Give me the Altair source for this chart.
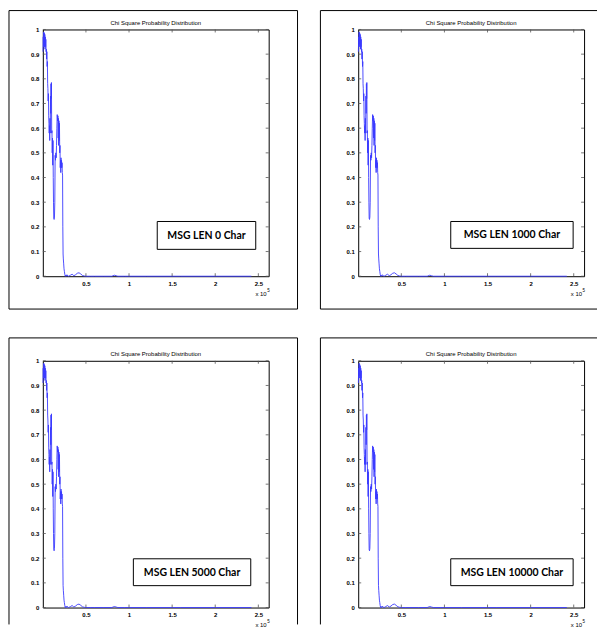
import altair as alt
import pandas as pd

# ---- data (x in units of 1e5) ----
curve_x = [0.002, 0.005, 0.008, 0.011, 0.014, 0.017, 0.020, 0.023, 0.026, 0.029,
           0.032, 0.035, 0.038, 0.041, 0.044, 0.047, 0.050, 0.053, 0.056, 0.059,
           0.062, 0.065, 0.068, 0.071, 0.074, 0.077, 0.080, 0.083, 0.086, 0.089,
           0.092, 0.095, 0.098, 0.100, 0.103, 0.106, 0.109, 0.112, 0.115, 0.118,
           0.121, 0.124, 0.127, 0.131, 0.135, 0.139, 0.143, 0.147, 0.151, 0.155,
           0.159, 0.163, 0.167, 0.171, 0.175, 0.178, 0.181, 0.184, 0.187, 0.190,
           0.193, 0.196, 0.199, 0.202, 0.205, 0.208, 0.211, 0.214, 0.217, 0.220,
           0.223, 0.226, 0.229, 0.232, 0.235, 0.238, 0.242, 0.246, 0.250, 0.255,
           0.260, 0.265, 0.270, 0.28, 0.29, 0.30, 0.32, 0.34, 0.36, 0.38,
           0.40, 0.42, 0.44, 0.46, 0.48, 0.50, 0.55, 0.60, 0.70, 0.80,
           0.83, 0.85, 0.87, 0.95, 1.2, 1.6, 2.0, 2.42]
curve_y = [0.91, 0.97, 0.93, 0.99, 0.94, 0.985, 0.93, 0.98, 0.92, 0.97,
           0.93, 0.96, 0.91, 0.92, 0.88, 0.91, 0.85, 0.87, 0.78, 0.76,
           0.71, 0.74, 0.65, 0.62, 0.58, 0.61, 0.55, 0.64, 0.58, 0.73,
           0.66, 0.78, 0.72, 0.785, 0.58, 0.59, 0.50, 0.56, 0.45, 0.55,
           0.40, 0.30, 0.235, 0.23, 0.24, 0.30, 0.49, 0.47, 0.50, 0.48,
           0.53, 0.60, 0.655, 0.63, 0.65, 0.56, 0.64, 0.53, 0.63, 0.55,
           0.62, 0.50, 0.53, 0.44, 0.47, 0.42, 0.48, 0.44, 0.47, 0.44,
           0.46, 0.42, 0.41, 0.20, 0.09, 0.07, 0.05, 0.03, 0.02, 0.008,
           0.0, 0.004, 0.0, 0.006, 0.001, 0.0, 0.004, 0.008, 0.002, 0.006,
           0.012, 0.014, 0.009, 0.003, 0.001, 0.0, 0.0, 0.0, 0.0, 0.0,
           0.004, 0.002, 0.0, 0.0, 0.0, 0.0, 0.0, 0.0]
x_ticks = [0.5, 1, 1.5, 2, 2.5]
y_ticks = [0, 0.1, 0.2, 0.3, 0.4, 0.5, 0.6, 0.7, 0.8, 0.9, 1]
panel_labels = ["MSG LEN 0 Char", "MSG LEN 1000 Char", "MSG LEN 5000 Char", "MSG LEN 10000 Char"]
title_text = "Chi Square Probability Distribution"
x_domain = [0, 2.62]
y_domain = [0, 1]

W, H = 227, 248

curve_df = pd.DataFrame({"x": curve_x, "y": curve_y})
xt_df = pd.DataFrame({"x": x_ticks})
yt_df = pd.DataFrame({"y": y_ticks})

LABEL_FONT = "Liberation Sans"


def X():
    return alt.X("x:Q", scale=alt.Scale(domain=x_domain, nice=False, zero=False),
                 axis=alt.Axis(values=x_ticks, format="~g", title=None, ticks=False, domain=False,
                               grid=False, labelFontSize=6, labelFont=LABEL_FONT, labelColor="black",
                               labelFontWeight="bold",
                               labelPadding=4, labelFlush=False, labelOverlap=False))


def Y():
    return alt.Y("y:Q", scale=alt.Scale(domain=y_domain, nice=False, zero=False),
                 axis=alt.Axis(values=y_ticks, format="~g", title=None, ticks=False, domain=False,
                               grid=False, labelFontSize=6, labelFont=LABEL_FONT, labelColor="black",
                               labelFontWeight="bold",
                               labelPadding=4, labelFlush=False, labelOverlap=False))


one = alt.Data(values=[{}])


def hrule(x1, x2, y):
    return alt.Chart(one).mark_rule(color="black", strokeWidth=1).encode(
        x=alt.value(x1), x2=alt.value(x2), y=alt.value(y))


def vrule(x, y1, y2):
    return alt.Chart(one).mark_rule(color="black", strokeWidth=1).encode(
        x=alt.value(x), y=alt.value(y1), y2=alt.value(y2))


def panel(label, frame, box):
    layers = []
    # figure frame edges
    layers += frame
    # title as text inside the frame
    layers.append(alt.Chart(one).mark_text(font=LABEL_FONT, fontSize=6, align="center",
                                           baseline="alphabetic", color="black").encode(
        x=alt.value(W / 2), y=alt.value(-5), text=alt.value(title_text)))
    # curve
    layers.append(alt.Chart(curve_df).mark_line(color="#3a3aff", strokeWidth=0.9).encode(x=X(), y=Y()))
    # inward ticks
    tcol = "#555555"
    layers.append(alt.Chart(yt_df).mark_rule(color=tcol, strokeWidth=0.8).encode(
        y=Y(), x=alt.value(0), x2=alt.value(3)))
    layers.append(alt.Chart(yt_df).mark_rule(color=tcol, strokeWidth=0.8).encode(
        y=Y(), x=alt.value(W - 3), x2=alt.value(W)))
    layers.append(alt.Chart(xt_df).mark_rule(color=tcol, strokeWidth=0.8).encode(
        x=X(), y=alt.value(H - 3), y2=alt.value(H)))
    layers.append(alt.Chart(xt_df).mark_rule(color=tcol, strokeWidth=0.8).encode(
        x=X(), y=alt.value(0), y2=alt.value(3)))
    # exponent label
    layers.append(alt.Chart(one).mark_text(font=LABEL_FONT, fontSize=6, align="right",
                                           baseline="middle", color="black").encode(
        x=alt.value(W - 2), y=alt.value(H + 18), text=alt.value("x 10")))
    layers.append(alt.Chart(one).mark_text(font=LABEL_FONT, fontSize=4.5, align="left",
                                           baseline="middle", color="black").encode(
        x=alt.value(W - 1.5), y=alt.value(H + 15), text=alt.value("5")))
    # label box
    bx1, bx2, by1, by2 = box
    layers.append(alt.Chart(one).mark_rect(fill="white", stroke="black", strokeWidth=1).encode(
        x=alt.value(bx1), x2=alt.value(bx2), y=alt.value(by1), y2=alt.value(by2)))
    layers.append(alt.Chart(one).mark_text(font="Lato", fontWeight="bold", fontSize=10.5,
                                           color="black", align="center", baseline="middle").encode(
        x=alt.value((bx1 + bx2) / 2), y=alt.value((by1 + by2) / 2 + 0.5), text=alt.value(label)))
    return alt.layer(*layers).properties(width=W, height=H)


p1 = panel(panel_labels[0],
           [vrule(-34, -19, 281), hrule(-34, 256, -19), vrule(256, -19, 281), hrule(-34, 256, 281)],
           (115, 214, 193, 221))
p2 = panel(panel_labels[1],
           [vrule(-38, -19, 281), hrule(-38, 240, -19), hrule(-38, 240, 281)],
           (93, 216, 193, 220))
p3 = panel(panel_labels[2],
           [vrule(-34, -23, 265), hrule(-34, 256, -23), vrule(256, -23, 265)],
           (91, 209, 199, 226))
p4 = panel(panel_labels[3],
           [vrule(-38, -23, 265), hrule(-38, 240, -23)],
           (93, 216, 199, 226))

chart = alt.concat(p1, p2, p3, p4, columns=2, spacing={"row": 27, "column": 21}, align="each").properties(
    padding=0, background="white"
).configure_view(stroke="black", strokeWidth=1)

chart.save("out.html", embed_options={"renderer": "svg", "actions": False})
